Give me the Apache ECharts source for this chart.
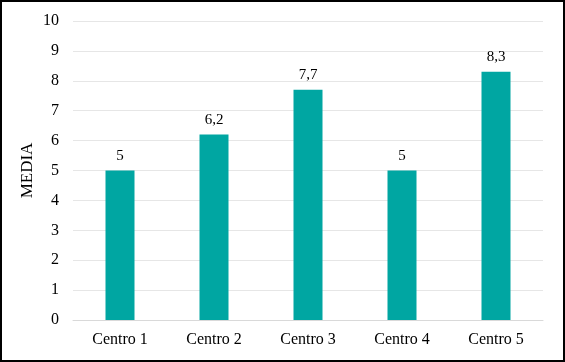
<!DOCTYPE html>
<html><head><meta charset="utf-8">
<script src="https://cdn.jsdelivr.net/npm/echarts@6/dist/echarts.min.js"></script>
<style>html,body{margin:0;padding:0;background:#fff}#c{width:565px;height:362px;box-sizing:border-box;border:2px solid #000}</style>
</head><body><div id="c"></div>
<script>
const categories = ['Centro 1','Centro 2','Centro 3','Centro 4','Centro 5'];
const values = [5, 6.2, 7.7, 5, 8.3];
const chart = echarts.init(document.getElementById('c'), null, {renderer:'canvas'});
const font = '"Liberation Serif","Times New Roman",serif';
chart.setOption({
  animation:false,
  grid:{left:71, right:20, top:19, bottom:40, containLabel:false},
  xAxis:{type:'category', data:categories,
    axisLine:{show:true, lineStyle:{color:'#d9d9d9'}}, axisTick:{show:false},
    axisLabel:{color:'#000', fontFamily:font, fontSize:16, margin:12}},
  yAxis:{type:'value', min:0, max:10, interval:1, name:'MEDIA', nameLocation:'middle', nameGap:37,
    nameMoveOverlap:false,
    nameTextStyle:{color:'#000', fontFamily:font, fontSize:17},
    axisLine:{show:false}, axisTick:{show:false},
    splitLine:{lineStyle:{color:'#e6e6e6'}},
    axisLabel:{color:'#000', fontFamily:font, fontSize:16, margin:14}},
  series:[{type:'bar', data:values, barWidth:29, itemStyle:{color:'#00A6A2'},
    label:{show:true, position:'top', distance:7, color:'#000', fontFamily:font, fontSize:15,
      formatter:p=>String(p.value).replace('.',',')}}]
});
</script></body></html>
